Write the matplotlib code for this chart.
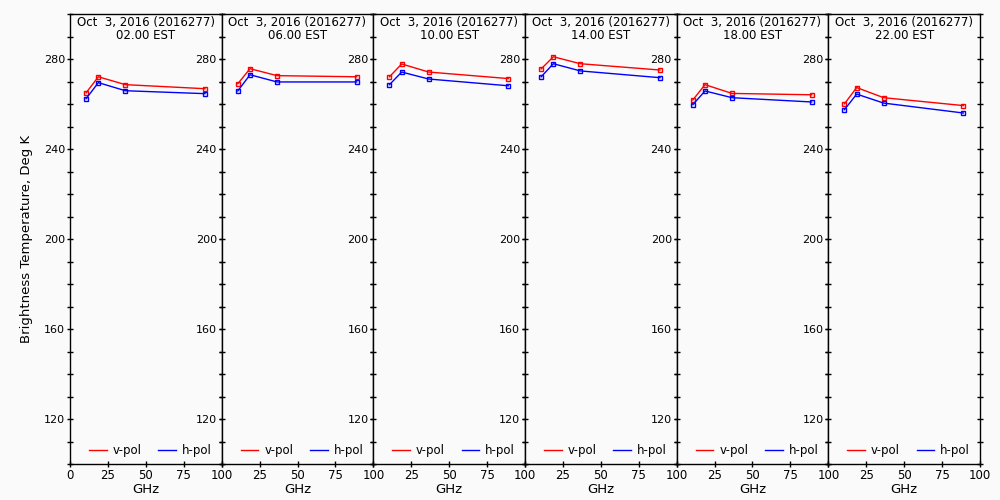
import matplotlib
matplotlib.use('Agg')
import matplotlib.pyplot as plt
from matplotlib.ticker import MultipleLocator
from matplotlib.lines import Line2D

# data ------------------------------------------------------------------
freqs = [10.65, 18.7, 36.5, 89.0]
date_label = 'Oct  3, 2016 (2016277)'
times = ['02.00 EST', '06.00 EST', '10.00 EST', '14.00 EST', '18.00 EST', '22.00 EST']

vpol_02 = [265.0, 272.1, 268.6, 266.8]
hpol_02 = [262.4, 269.5, 265.9, 264.6]
vpol_06 = [269.0, 275.7, 272.6, 272.1]
hpol_06 = [265.8, 273.0, 269.8, 269.8]
vpol_10 = [272.1, 277.8, 274.2, 271.3]
hpol_10 = [268.6, 274.2, 271.1, 268.1]
vpol_14 = [275.6, 281.0, 277.9, 275.1]
hpol_14 = [272.1, 277.9, 274.7, 271.7]
vpol_18 = [261.8, 268.6, 264.7, 264.1]
hpol_18 = [259.7, 265.8, 262.8, 260.9]
vpol_22 = [260.1, 267.3, 262.8, 259.3]
hpol_22 = [257.5, 264.4, 260.4, 256.0]

vpol = [vpol_02, vpol_06, vpol_10, vpol_14, vpol_18, vpol_22]
hpol = [hpol_02, hpol_06, hpol_10, hpol_14, hpol_18, hpol_22]
# -----------------------------------------------------------------------

bg = '#fafafa'
fig = plt.figure(figsize=(10, 5), dpi=100, facecolor=bg)
left, right, bottom, top = 0.07, 0.98, 0.072, 0.972
w = (right - left) / 6

handles = [Line2D([], [], color='red', lw=1), Line2D([], [], color='blue', lw=1)]

for i in range(6):
    ax = fig.add_axes([left + i * w, bottom, w, top - bottom], facecolor=bg)
    ax.plot(freqs, vpol[i], color='red', lw=1, marker='s', ms=3.5, mfc='none', mew=1)
    ax.plot(freqs, hpol[i], color='blue', lw=1, marker='s', ms=3.5, mfc='none', mew=1)
    ax.set_xlim(0, 100)
    ax.set_ylim(100, 300)
    ax.xaxis.set_major_locator(MultipleLocator(25))
    first = (i == 0)
    # neighbouring panels share an edge, so only the first one shows "0"
    ax.xaxis.set_major_formatter(plt.FuncFormatter(
        lambda v, p, first=first: '' if (v == 0 and not first) else '%d' % v))
    ax.yaxis.set_major_locator(MultipleLocator(40))
    ax.yaxis.set_major_formatter(plt.FuncFormatter(
        lambda v, p: '%d' % v if 110 <= v <= 290 else ''))
    ax.yaxis.set_minor_locator(MultipleLocator(10))
    ax.tick_params(axis='y', which='both', direction='inout', length=5, width=1,
                   left=True, right=True, labelleft=True, labelright=False,
                   labelsize=8, pad=1)
    ax.tick_params(axis='x', direction='inout', length=5, width=1, top=False,
                   labelsize=8.5, pad=1)
    for s in ax.spines.values():
        s.set_linewidth(1)
    ax.set_xlabel('GHz', fontsize=9.5, labelpad=1)
    ax.text(0.5, 0.995, date_label + '\n' + times[i], transform=ax.transAxes,
            ha='center', va='top', fontsize=8.5, linespacing=0.95)
    ax.legend(handles, ['v-pol', 'h-pol'], loc='lower center', ncol=2,
              frameon=False, fontsize=8.5, handlelength=1.5, columnspacing=1.4,
              handletextpad=0.5, borderaxespad=0.2, bbox_to_anchor=(0.53, 0.0))
    if first:
        ax.set_ylabel('Brightness Temperature, Deg K', fontsize=9.5)
        ax.yaxis.set_label_coords(-0.245, 0.5)

fig.savefig('out.png', dpi=100, facecolor=bg)
